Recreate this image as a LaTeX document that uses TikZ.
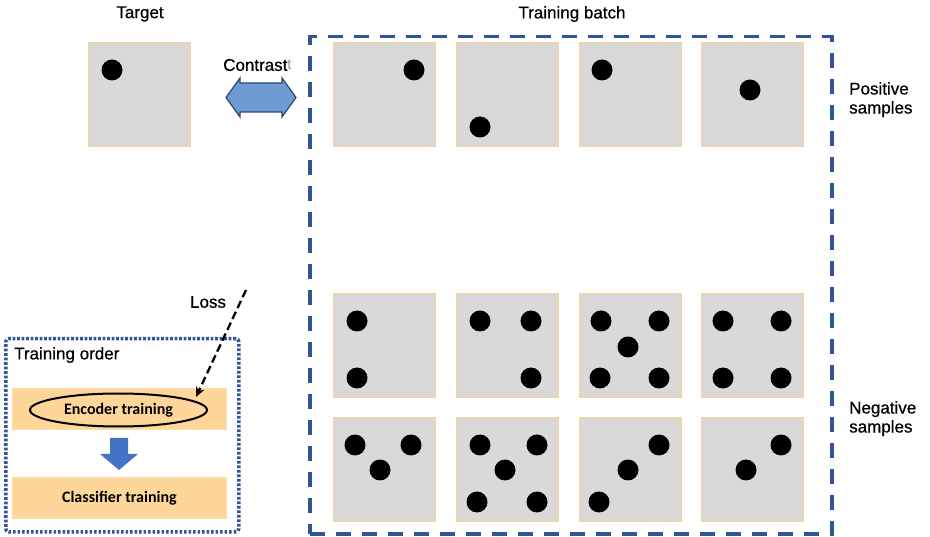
\documentclass[tikz,border=0pt]{standalone}
\usepackage{fontspec}
\setmainfont{Liberation Sans}[BoldFont=Liberation Sans, BoldFeatures={FakeBold=0.6}]
\newfontfamily\calib{Carlito}
\usetikzlibrary{shapes.geometric,arrows.meta}
\definecolor{sqfill}{RGB}{217,217,217}
\definecolor{sqborder}{RGB}{244,214,140}
\definecolor{batchblue}{RGB}{47,85,151}
\definecolor{barfill}{RGB}{255,214,153}
\definecolor{barborder}{RGB}{252,222,170}
\definecolor{cfill}{RGB}{110,155,210}
\definecolor{cborder}{RGB}{45,70,110}
\definecolor{downblue}{RGB}{68,114,196}
\tikzset{
  die/.style={draw=sqborder, fill=sqfill, line width=1.2pt, minimum width=102pt, minimum height=104pt, inner sep=0pt, anchor=north west},
  pip/.style={fill=black},
  lbl/.style={font=\bfseries\fontsize{17}{19}\selectfont, inner sep=0pt},
  bar/.style={draw=barborder, fill=barfill, line width=0.8pt, minimum width=214pt, minimum height=41pt, inner sep=0pt, anchor=north west},
  bartext/.style={font=\calib\bfseries\fontsize{16}{18}\selectfont, inner sep=0pt}
}
\begin{document}
\begin{tikzpicture}[x=1pt,y=-1pt]
\useasboundingbox (0,0) rectangle (930,537);
% titles
\node[lbl] (ttarget) at (140,14) {Target};
\node[lbl] (tbatch) at (572,14) {Training batch};
\node[lbl, anchor=west] (contr) at (223,65) {Contrast\raisebox{1pt}{\textcolor{gray!80}{\mdseries\fontsize{15}{16}\selectfont t}}};
\node[lbl, anchor=north west, align=left] (pos) at (849,82) {Positive\\samples};
\node[lbl, anchor=north west, align=left] (neg) at (849,401) {Negative\\samples};
% target die
\node[die] (target) at (88,42) {};
\fill[pip] (112,70) circle (10.5);
% batch dashed frame
\node[draw=batchblue, line width=3.5pt, dash pattern=on 15pt off 11pt, minimum width=522pt, minimum height=497pt, anchor=north west, inner sep=0pt] (batch) at (308,35) {};
% row 1
\node[die] (p1) at (333,42) {};
\node[die] (p2) at (456,42) {};
\node[die] (p3) at (579,42) {};
\node[die] (p4) at (701,42) {};
\fill[pip] (414,70) circle (10.5);
\fill[pip] (480,127) circle (10.5);
\fill[pip] (602,70) circle (10.5);
\fill[pip] (750,90) circle (10.5);
% row 2
\node[die] (n1) at (333,293) {};
\node[die] (n2) at (456,293) {};
\node[die] (n3) at (579,293) {};
\node[die] (n4) at (701,293) {};
\foreach \p in {(357,321),(357,378),
                (480,321),(531,321),(531,378),
                (601,321),(659,321),(628,347),(600,378),(659,378),
                (723,321),(781,321),(723,378),(781,378)}
  \fill[pip] \p circle (10.5);
% row 3
\node[die] (m1) at (333,417) {};
\node[die] (m2) at (456,417) {};
\node[die] (m3) at (579,417) {};
\node[die] (m4) at (701,417) {};
\foreach \p in {(355,445),(411,445),(380,470),
                (480,445),(537,445),(505,470),(477,502),(537,502),
                (659,445),(628,470),(599,502),
                (781,445),(746,470)}
  \fill[pip] \p circle (10.5);
% contrast double arrow
\draw[fill=cfill, draw=cborder, line width=1.2pt, line join=miter]
  (226,97.5) -- (240,78) -- (240,83) -- (282,83) -- (282,78) -- (296,97.5)
  -- (282,117) -- (282,112) -- (240,112) -- (240,117) -- cycle;
% training order box
\node[draw=batchblue, line width=3.5pt, dash pattern=on 2.6pt off 1.9pt, minimum width=233pt, minimum height=193pt, anchor=north west, inner sep=0pt, rounded corners=3pt] (order) at (4,337) {};
\node[lbl, anchor=west] (otitle) at (14,355) {Training order};
\node[bar] (encbar) at (12,388) {};
\node[bar] (clsbar) at (12,477) {};
\node[draw=black, line width=2pt, ellipse, minimum width=177pt, minimum height=33pt, inner sep=0pt] (enc) at (118.5,410) {};
\node[bartext] (enctext) at (118.5,410) {Encoder training};
\node[bartext] (clstext) at (clsbar.center) {Classifier training};
\fill[downblue] (110,438) -- (128,438) -- (128,454) -- (138,454) -- (119,470) -- (100,454) -- (110,454) -- cycle;
% loss
\node[lbl] (loss) at (208,302) {Loss};
\coordinate (lossfrom) at (246,290);
\coordinate (losstip) at (196,397);
\draw[black, line width=2.3pt, dash pattern=on 8pt off 4pt, -{Stealth[length=10pt,width=9pt]}] (lossfrom) -- (losstip);
\end{tikzpicture}
\end{document}
